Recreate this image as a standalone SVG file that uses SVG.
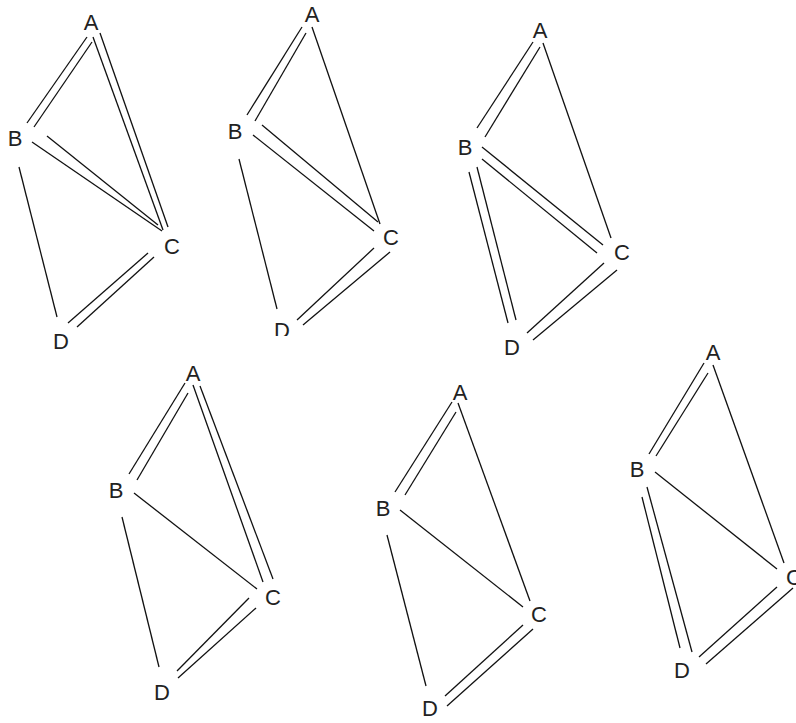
<svg xmlns="http://www.w3.org/2000/svg" width="796" height="723" viewBox="0 0 796 723">
<style>
text{font-family:"Liberation Sans",Arial,sans-serif;font-size:22px;fill:#222;text-anchor:middle}
line{stroke:#111;stroke-width:1.3}
</style>
<defs><clipPath id="clip2"><rect x="195" y="0" width="220" height="336"/></clipPath></defs>
<rect width="796" height="723" fill="#fff"/>
<g id="connectors">
<g id="g1-edges">
<line x1="87" y1="37" x2="27" y2="123"/><line x1="92" y1="42" x2="34" y2="127"/>
<line x1="93" y1="37" x2="163" y2="230"/><line x1="100" y1="33" x2="168" y2="227"/>
<line x1="47" y1="136" x2="158" y2="225"/><line x1="32" y1="142" x2="162" y2="231"/>
<line x1="19" y1="167" x2="57" y2="317"/>
<line x1="148" y1="253" x2="68" y2="323"/><line x1="154" y1="257" x2="77" y2="327"/>
</g>
<g id="g2-edges">
<line x1="302" y1="27" x2="247" y2="115"/><line x1="306" y1="33" x2="255" y2="121"/>
<line x1="312" y1="27" x2="380" y2="224"/>
<line x1="262" y1="125" x2="378" y2="222"/><line x1="253" y1="135" x2="374" y2="231"/>
<line x1="239" y1="159" x2="277" y2="309"/>
<line x1="374" y1="248" x2="297" y2="320"/><line x1="390" y1="252" x2="303" y2="325"/>
</g>
<g id="g3-edges">
<line x1="533" y1="42" x2="477" y2="128"/><line x1="540" y1="47" x2="485" y2="137"/>
<line x1="543" y1="43" x2="611" y2="238"/>
<line x1="482" y1="147" x2="603" y2="245"/><line x1="482" y1="159" x2="597" y2="253"/>
<line x1="469" y1="172" x2="508" y2="323"/><line x1="477" y1="167" x2="516" y2="320"/>
<line x1="604" y1="263" x2="527" y2="333"/><line x1="617" y1="270" x2="533" y2="340"/>
</g>
<g id="g4-edges">
<line x1="185" y1="383" x2="129" y2="474"/><line x1="188" y1="393" x2="137" y2="480"/>
<line x1="193" y1="385" x2="263" y2="582"/><line x1="200" y1="386" x2="273" y2="579"/>
<line x1="134" y1="493" x2="257" y2="589"/>
<line x1="122" y1="517" x2="159" y2="667"/>
<line x1="249" y1="598" x2="177" y2="671"/><line x1="256" y1="608" x2="178" y2="678"/>
</g>
<g id="g5-edges">
<line x1="452" y1="402" x2="395" y2="492"/><line x1="456" y1="412" x2="405" y2="495"/>
<line x1="458" y1="403" x2="530" y2="601"/>
<line x1="400" y1="510" x2="523" y2="607"/>
<line x1="387" y1="535" x2="426" y2="686"/>
<line x1="523" y1="625" x2="445" y2="696"/><line x1="533" y1="629" x2="447" y2="706"/>
</g>
<g id="g6-edges">
<line x1="704" y1="363" x2="649" y2="454"/><line x1="708" y1="373" x2="656" y2="456"/>
<line x1="713" y1="365" x2="784" y2="563"/>
<line x1="655" y1="472" x2="777" y2="569"/>
<line x1="642" y1="497" x2="680" y2="648"/><line x1="647" y1="487" x2="692" y2="652"/>
<line x1="777" y1="587" x2="699" y2="657"/><line x1="793" y1="588" x2="706" y2="664"/>
</g>
</g>
<g id="g1-A"><text x="91" y="30">A</text></g>
<g id="g1-B"><text x="15" y="146">B</text></g>
<g id="g1-C"><text x="172" y="254">C</text></g>
<g id="g1-D"><text x="61" y="349">D</text></g>
<g id="g2-A"><text x="312" y="22">A</text></g>
<g id="g2-B"><text x="235" y="139">B</text></g>
<g id="g2-C"><text x="391" y="245">C</text></g>
<g id="g2-D" clip-path="url(#clip2)"><text x="282" y="338">D</text></g>
<g id="g3-A"><text x="540" y="38">A</text></g>
<g id="g3-B"><text x="465" y="155">B</text></g>
<g id="g3-C"><text x="622" y="260">C</text></g>
<g id="g3-D"><text x="512" y="355">D</text></g>
<g id="g4-A"><text x="193" y="381">A</text></g>
<g id="g4-B"><text x="116" y="498">B</text></g>
<g id="g4-C"><text x="273" y="605">C</text></g>
<g id="g4-D"><text x="162" y="700">D</text></g>
<g id="g5-A"><text x="460" y="400">A</text></g>
<g id="g5-B"><text x="383" y="516">B</text></g>
<g id="g5-C"><text x="539" y="622">C</text></g>
<g id="g5-D"><text x="430" y="716">D</text></g>
<g id="g6-A"><text x="713" y="360">A</text></g>
<g id="g6-B"><text x="637" y="477">B</text></g>
<g id="g6-C"><text x="794" y="585">C</text></g>
<g id="g6-D"><text x="682" y="678">D</text></g>
</svg>
